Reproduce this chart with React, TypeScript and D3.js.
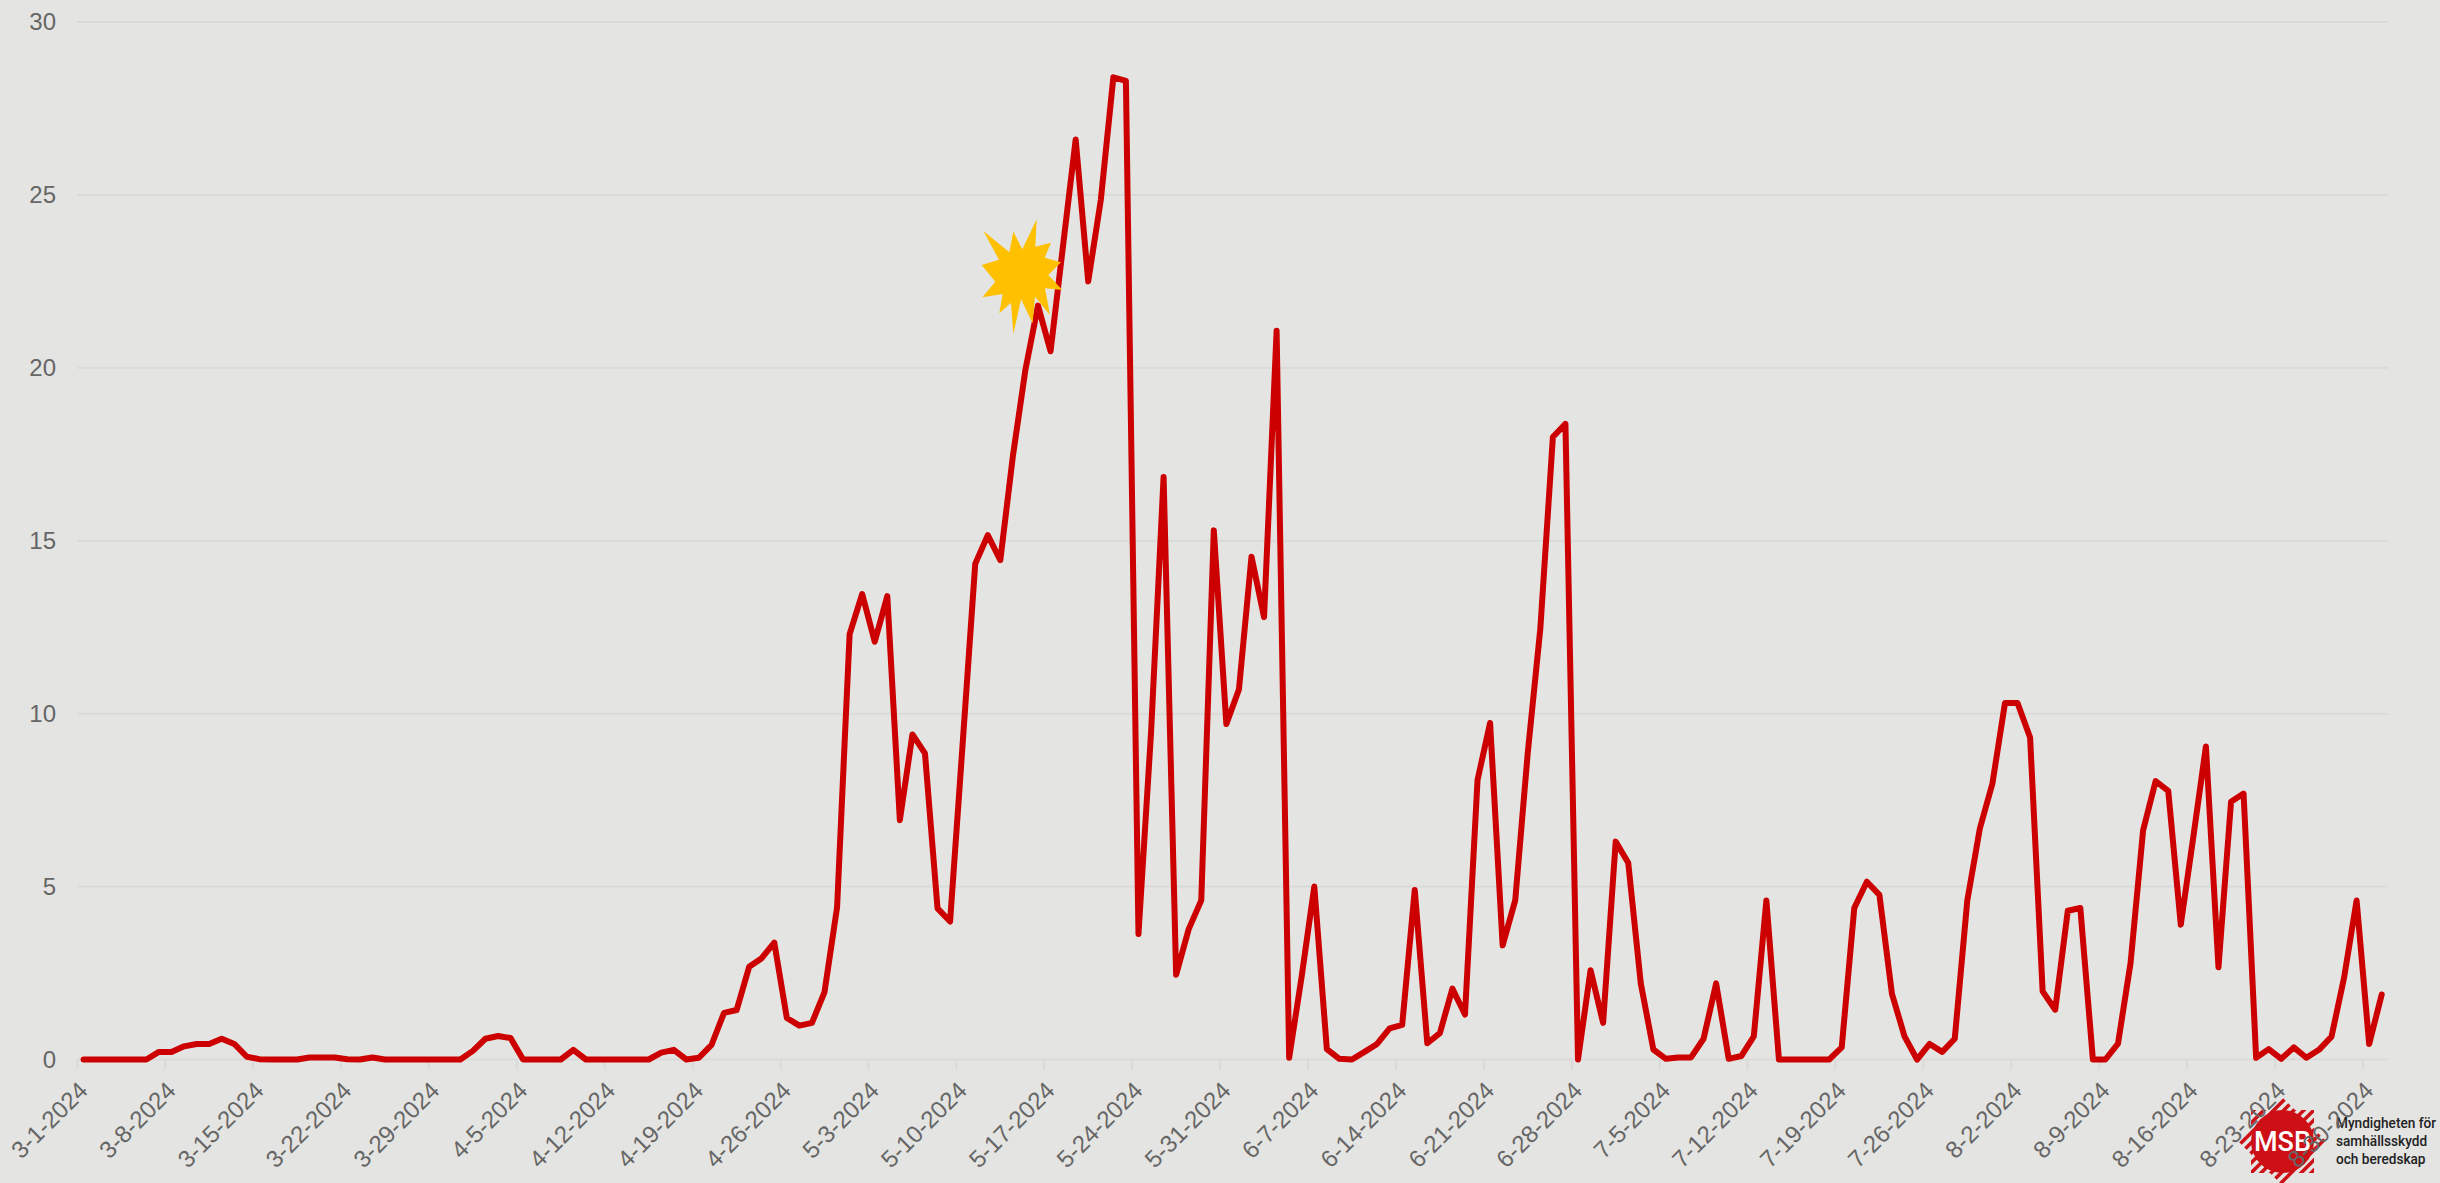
import React from "react";
import * as d3 from "d3";

const startDate = new Date(Date.UTC(2024, 2, 1));
const endDate = new Date(Date.UTC(2024, 8, 1));
const categories: Date[] = d3.utcDay.range(startDate, endDate);

const marchValues = [0,0,0,0,0,0,0.22,0.22,0.38,0.45,0.45,0.6,0.45,0.08,0.01,0,0,0,0.06,0.06,0.06,0.01,0,0.06,0,0,0,0,0,0,0];
const aprilValues = [0.25,0.6,0.68,0.62,0,0,0,0,0.28,0,0,0,0,0,0,0.2,0.28,0,0.05,0.42,1.35,1.43,2.68,2.93,3.38,1.2,0.98,1.06,1.95,4.4];
const mayValues = [12.3,13.46,12.08,13.4,6.92,9.4,8.85,4.37,3.99,9.13,14.33,15.16,14.44,17.45,19.95,21.8,20.48,23.55,26.6,22.5,24.85,28.4,28.3,3.63,9.44,16.84,2.45,3.77,4.6,15.3,9.7];
const juneValues = [10.7,14.54,12.79,21.07,0.05,2.41,5.0,0.3,0.02,0,0.22,0.45,0.9,1.0,4.9,0.47,0.76,2.05,1.3,8.08,9.73,3.3,4.6,8.87,12.46,18.0,18.38,0,2.58,1.06];
const julyValues = [6.3,5.69,2.2,0.29,0.02,0.06,0.06,0.6,2.2,0.02,0.1,0.67,4.6,0,0,0,0,0,0.35,4.38,5.14,4.76,1.9,0.67,0,0.45,0.22,0.6,4.6,6.68,7.98];
const augustValues = [10.31,10.31,9.31,1.97,1.44,4.3,4.38,0,0,0.46,2.79,6.63,8.05,7.77,3.9,6.44,9.05,2.67,7.45,7.69,0.05,0.3,0.02,0.35,0.05,0.28,0.66,2.36,4.6,0.45,1.88];
const seriesValues = [...marchValues, ...aprilValues, ...mayValues, ...juneValues, ...julyValues, ...augustValues];

const yTicks = [0, 5, 10, 15, 20, 25, 30];
const logoLines = ["Myndigheten för", "samhällsskydd", "och beredskap"];

const starPoints: [number, number][] = [
  [200,28],[196,110],[243,98],[224,143],[273,157],[235,195],[277,240],[225,235],[240,315],[195,260],[188,340],[153,268],
  [130,372],[123,278],[88,310],[98,252],[37,262],[76,215],[35,165],[87,149],[40,63],[118,127],[130,65],[157,118],
];

const W = 2440, H = 1183;
const BG = "#e4e4e2", GRID = "#dadad8", TXT = "#666666", RED = "#cc0000", LOGO = "#cc1016";

const fmt = (d: Date) => `${d.getUTCMonth() + 1}-${d.getUTCDate()}-${d.getUTCFullYear()}`;

export default function App() {
  const x = d3.scaleBand<number>().domain(d3.range(categories.length)).range([77.3, 2388]);
  const y = d3.scaleLinear().domain([0, 30]).range([1059.5, 22]);
  const cx = (i: number) => x(i)! + x.bandwidth() / 2;
  const line = d3.line<number>().x((_, i) => cx(i)).y((v) => y(v));
  const tickIdx = d3.range(0, categories.length, 7);
  const lc = [2282.5, 1141.5];
  const stripes = d3.range(-16, 17);
  const star = starPoints.map(([a, b]) => `${970 + a / 3},${210 + b / 3}`).join(" ");
  return (
    <svg width={W} height={H} viewBox={`0 0 ${W} ${H}`} style={{ position: "absolute", left: 0, top: 0, display: "block", background: BG }}>
      <defs>
        <clipPath id="logoClip">
          <polygon points={`${lc[0]},${lc[1]-44} ${lc[0]+44},${lc[1]} ${lc[0]},${lc[1]+44} ${lc[0]-44},${lc[1]}`} />
          <rect x={lc[0]-31.5} y={lc[1]-31.5} width={63} height={63} />
        </clipPath>
      </defs>
      <rect width={W} height={H} fill={BG} />
      {yTicks.map((t) => (
        <line key={t} x1={77.3} x2={2388} y1={y(t)} y2={y(t)} stroke={GRID} strokeWidth={2} />
      ))}
      {tickIdx.map((i) => (
        <line key={i} x1={x(i)} x2={x(i)} y1={1059.5} y2={1070} stroke={GRID} strokeWidth={2} />
      ))}
      {yTicks.map((t) => (
        <text key={t} x={56} y={y(t) + 8} textAnchor="end" fontFamily="'Liberation Sans', Arial, sans-serif" fontSize={24} fill={TXT}>{t}</text>
      ))}
      <path d={line(seriesValues) ?? ""} fill="none" stroke={RED} strokeWidth={6} strokeLinejoin="round" strokeLinecap="round" />
      <polygon points={star} fill="#ffc000" />
      <g>
        <g clipPath="url(#logoClip)" stroke={LOGO} strokeWidth={3.6}>
          {stripes.map((k) => (
            <line key={k} x1={lc[0]-70+k*5} y1={lc[1]+70+k*5} x2={lc[0]+70+k*5} y2={lc[1]-70+k*5} />
          ))}
        </g>
        <circle cx={lc[0]} cy={lc[1]} r={31.5} fill={LOGO} />
        <text x={lc[0]} y={1151} textAnchor="middle" fontFamily="Roboto, sans-serif" fontWeight={500} fontSize={27} fill="#ffffff">MSB</text>
        {logoLines.map((s, i) => (
          <text key={s} transform={`translate(2336,${1128 + i * 18}) scale(0.88,1)`} fontFamily="Roboto, sans-serif" fontWeight={500} fontSize={15.5} fill="#222222">{s}</text>
        ))}
      </g>
      {tickIdx.map((i) => (
        <text key={i} transform={`translate(${x(i)! + 12},1092) rotate(-45)`} textAnchor="end" fontFamily="'Liberation Sans', Arial, sans-serif" fontSize={24} fill={TXT}>{fmt(categories[i])}</text>
      ))}
    </svg>
  );
}
